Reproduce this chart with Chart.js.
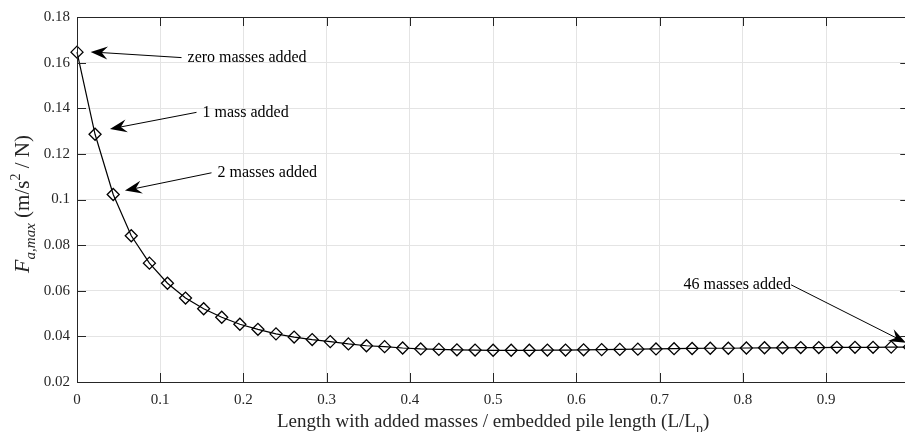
<!DOCTYPE html>
<html>
<head>
<meta charset="utf-8">
<script src="https://cdn.jsdelivr.net/npm/chart.js@4.4.1/dist/chart.umd.min.js"></script>
<style>
  html, body { margin: 0; padding: 0; background: #fff; overflow: hidden; }
</style>
</head>
<body>
<canvas id="fChart" width="922" height="432"></canvas>
<script>
// L/Lp for 0..46 added masses
const lengthRatio = [
  0, 0.0217, 0.0435, 0.0652, 0.0870, 0.1087, 0.1304, 0.1522, 0.1739, 0.1957,
  0.2174, 0.2391, 0.2609, 0.2826, 0.3043, 0.3261, 0.3478, 0.3696, 0.3913, 0.4130,
  0.4348, 0.4565, 0.4783, 0.5000, 0.5217, 0.5435, 0.5652, 0.5870, 0.6087, 0.6304,
  0.6522, 0.6739, 0.6957, 0.7174, 0.7391, 0.7609, 0.7826, 0.8043, 0.8261, 0.8478,
  0.8696, 0.8913, 0.9130, 0.9348, 0.9565, 0.9783, 1.0000
];
// F_a,max (m/s^2 / N)
const fMax = [
  0.1646, 0.1286, 0.1022, 0.0841, 0.0721, 0.0633, 0.0568, 0.0521, 0.0484, 0.0453,
  0.0431, 0.0411, 0.0397, 0.0386, 0.0377, 0.0367, 0.0359, 0.0355, 0.0349, 0.0345,
  0.0343, 0.0341, 0.0340, 0.0339, 0.0339, 0.0339, 0.0340, 0.0340, 0.0341, 0.0342,
  0.0343, 0.0344, 0.0345, 0.0346, 0.0347, 0.0348, 0.0348, 0.0349, 0.0350, 0.0350,
  0.0351, 0.0351, 0.0352, 0.0352, 0.0352, 0.0353, 0.0353
];
const xTicks = [0, 0.1, 0.2, 0.3, 0.4, 0.5, 0.6, 0.7, 0.8, 0.9, 1];
const yTicks = [0.02, 0.04, 0.06, 0.08, 0.1, 0.12, 0.14, 0.16, 0.18];

// annotation arrows, in data units
const notes = [
  { text: 'zero masses added', tip: [0.0164, 0.1647], tail: [0.1256, 0.1622], side: 'right' },
  { text: '1 mass added',      tip: [0.0396, 0.1309], tail: [0.1436, 0.1382], side: 'right' },
  { text: '2 masses added',    tip: [0.0576, 0.1039], tail: [0.1616, 0.1117], side: 'right' },
  { text: '46 masses added',   tip: [0.9960, 0.0372], tail: [0.8580, 0.0626], side: 'left' }
];

const serif = '"Liberation Serif", "Times New Roman", serif';
const ink = '#262626';

// draw a run of text pieces (with sub/superscripts) starting at x, baseline y
function drawPieces(ctx, pieces, x, y) {
  pieces.forEach(p => {
    ctx.font = p.font;
    ctx.fillText(p.t, x, y + (p.dy || 0));
    x += ctx.measureText(p.t).width;
  });
}
function piecesWidth(ctx, pieces) {
  let w = 0;
  pieces.forEach(p => { ctx.font = p.font; w += ctx.measureText(p.t).width; });
  return w;
}

const boxPlugin = {
  id: 'box',
  afterDatasetsDraw(chart) {
    const { ctx, chartArea: a, scales: { x, y } } = chart;
    ctx.save();
    ctx.strokeStyle = ink;
    ctx.lineWidth = 1;
    ctx.beginPath();
    xTicks.forEach(v => {
      const px = Math.round(x.getPixelForValue(v)) + 0.5;
      ctx.moveTo(px, a.bottom); ctx.lineTo(px, a.bottom - 9);
      ctx.moveTo(px, a.top); ctx.lineTo(px, a.top + 9);
    });
    yTicks.forEach(v => {
      const py = Math.round(y.getPixelForValue(v)) + 0.5;
      ctx.moveTo(a.left, py); ctx.lineTo(a.left + 9, py);
      ctx.moveTo(a.right, py); ctx.lineTo(a.right - 9, py);
    });
    ctx.stroke();
    ctx.strokeRect(Math.round(a.left) + 0.5, Math.round(a.top) + 0.5, Math.round(a.width), Math.round(a.height));
    ctx.restore();
  }
};

const notesPlugin = {
  id: 'notes',
  afterDatasetsDraw(chart) {
    const { ctx, scales: { x, y } } = chart;
    ctx.save();
    notes.forEach(n => {
      const tx = x.getPixelForValue(n.tip[0]), ty = y.getPixelForValue(n.tip[1]);
      const sx = x.getPixelForValue(n.tail[0]), sy = y.getPixelForValue(n.tail[1]);
      const len = Math.hypot(tx - sx, ty - sy);
      const ux = (tx - sx) / len, uy = (ty - sy) / len;
      const nx = -uy, ny = ux;
      const L = 17, W = 13;
      ctx.strokeStyle = '#000';
      ctx.fillStyle = '#000';
      ctx.lineWidth = 1;
      ctx.beginPath();
      ctx.moveTo(sx, sy);
      ctx.lineTo(tx - ux * L * 0.6, ty - uy * L * 0.6);
      ctx.stroke();
      ctx.beginPath();
      ctx.moveTo(tx, ty);
      ctx.lineTo(tx - ux * L + nx * W / 2, ty - uy * L + ny * W / 2);
      ctx.lineTo(tx - ux * L * 0.65, ty - uy * L * 0.65);
      ctx.lineTo(tx - ux * L - nx * W / 2, ty - uy * L - ny * W / 2);
      ctx.closePath();
      ctx.fill();
      ctx.font = '16px ' + serif;
      ctx.textBaseline = 'middle';
      if (n.side === 'right') {
        ctx.textAlign = 'left';
        ctx.fillText(n.text, sx + 6, sy);
      } else {
        ctx.textAlign = 'right';
        ctx.fillText(n.text, sx, sy);
      }
    });
    ctx.restore();
  }
};

const titlesPlugin = {
  id: 'titles',
  afterDraw(chart) {
    const { ctx, chartArea: a } = chart;
    ctx.save();
    ctx.fillStyle = ink;
    ctx.textBaseline = 'alphabetic';
    ctx.textAlign = 'left';
    // x title
    const xt = [
      { t: 'Length with added masses / embedded pile length (L/L', font: '19px ' + serif },
      { t: 'p', font: '14px ' + serif, dy: 6 },
      { t: ')', font: '19px ' + serif }
    ];
    const cx = (a.left + a.right) / 2;
    drawPieces(ctx, xt, cx - piecesWidth(ctx, xt) / 2, 427);
    // y title
    const yt = [
      { t: 'F', font: 'italic 22px ' + serif },
      { t: 'a,max', font: 'italic 15px ' + serif, dy: 6 },
      { t: ' (m/s', font: '21px ' + serif },
      { t: '2', font: '14px ' + serif, dy: -9 },
      { t: ' / N)', font: '21px ' + serif }
    ];
    ctx.translate(29, 204);
    ctx.rotate(-Math.PI / 2);
    drawPieces(ctx, yt, -piecesWidth(ctx, yt) / 2, 0);
    ctx.restore();
  }
};

new Chart(document.getElementById('fChart'), {
  type: 'scatter',
  data: {
    datasets: [{
      data: lengthRatio.map((v, i) => ({ x: v, y: fMax[i] })),
      showLine: true,
      clip: false,
      borderColor: '#000',
      borderWidth: 1.2,
      tension: 0,
      pointStyle: 'rectRot',
      pointRadius: 6,
      pointBorderWidth: 1.3,
      pointBorderColor: '#000',
      pointBackgroundColor: 'rgba(0,0,0,0)'
    }]
  },
  options: {
    responsive: false,
    devicePixelRatio: 1,
    animation: false,
    events: [],
    layout: { padding: { left: 0, top: 17, right: 0, bottom: 0 } },
    plugins: { legend: { display: false }, tooltip: { enabled: false } },
    scales: {
      x: {
        type: 'linear',
        min: 0, max: 1,
        afterBuildTicks: s => { s.ticks = xTicks.map(v => ({ value: v })); },
        afterFit: s => { s.height = 50; },
        grid: { color: '#e4e4e4', drawTicks: false },
        border: { display: false },
        ticks: {
          padding: 9,
          color: ink,
          font: { family: serif, size: 15 },
          maxRotation: 0,
          callback: v => String(+v.toFixed(2))
        }
      },
      y: {
        type: 'linear',
        min: 0.02, max: 0.18,
        afterBuildTicks: s => { s.ticks = yTicks.map(v => ({ value: v })); },
        afterFit: s => { s.width = 77; },
        grid: { color: '#e4e4e4', drawTicks: false },
        border: { display: false },
        ticks: {
          padding: 7,
          color: ink,
          font: { family: serif, size: 15 },
          callback: v => String(+v.toFixed(2))
        }
      }
    }
  },
  plugins: [boxPlugin, notesPlugin, titlesPlugin]
});
</script>
</body>
</html>
